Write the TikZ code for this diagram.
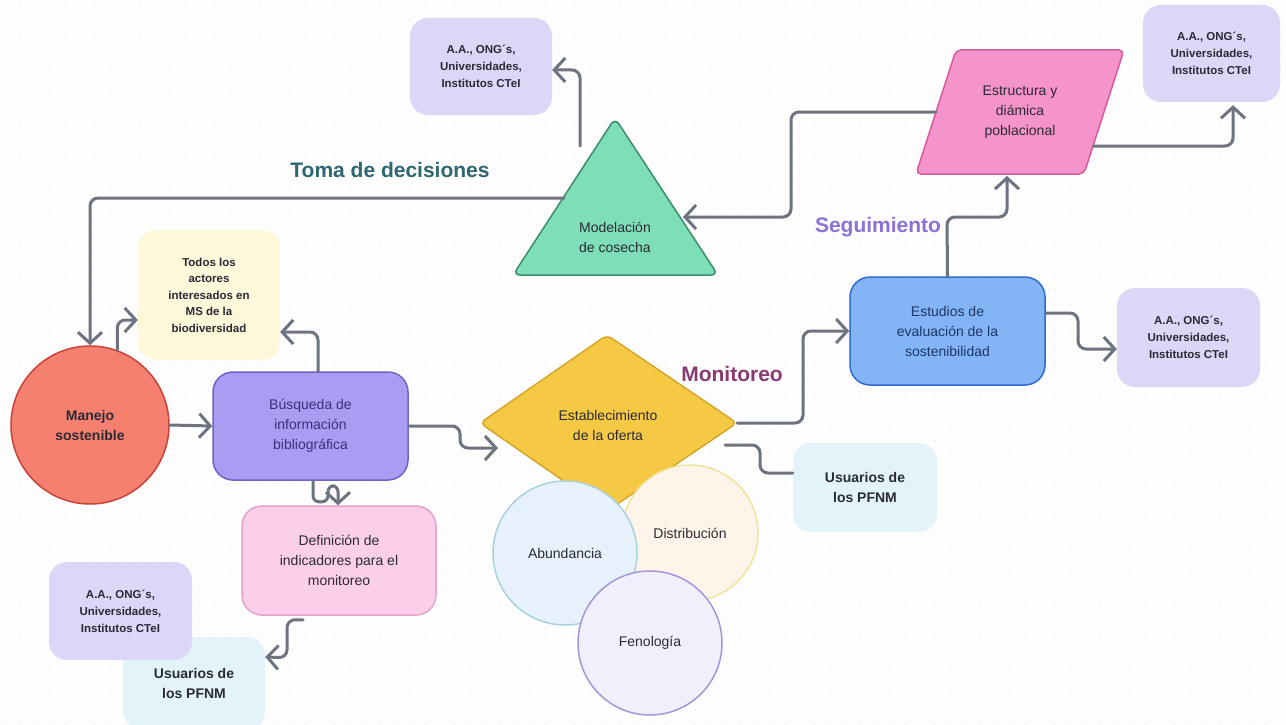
\documentclass[tikz,border=0pt]{standalone}
\usepackage{fontspec}
\setmainfont{Liberation Sans}
\usetikzlibrary{arrows.meta,calc,shapes.geometric}
\definecolor{bgc}{HTML}{FDFDFD}
\definecolor{dotc}{HTML}{DADCE0}
\definecolor{linec}{HTML}{6E7380}
\definecolor{txt}{HTML}{2A2A35}
\definecolor{redfill}{HTML}{F6806F}
\definecolor{redline}{HTML}{C8433A}
\definecolor{purfill}{HTML}{A99CF2}
\definecolor{purline}{HTML}{7062C9}
\definecolor{purtxt}{HTML}{3A2F7A}
\definecolor{yelbox}{HTML}{FDF8DA}
\definecolor{pinkfill}{HTML}{FBCFEA}
\definecolor{pinkline}{HTML}{E5A3CB}
\definecolor{lav}{HTML}{DCD6F7}
\definecolor{cyanbox}{HTML}{E2F4FA}
\definecolor{grnfill}{HTML}{7EDEB7}
\definecolor{grnline}{HTML}{3D8C6B}
\definecolor{parfill}{HTML}{F593CB}
\definecolor{parline}{HTML}{D65B9C}
\definecolor{bluefill}{HTML}{82B4F6}
\definecolor{blueline}{HTML}{2F6BD0}
\definecolor{bluetxt}{HTML}{1D3767}
\definecolor{diafill}{HTML}{F6C945}
\definecolor{dialine}{HTML}{D4A72C}
\definecolor{abfill}{HTML}{E6F1FB}
\definecolor{abline}{HTML}{A8D2DC}
\definecolor{disfill}{HTML}{FEF4EA}
\definecolor{disline}{HTML}{F1E39A}
\definecolor{fenfill}{HTML}{F2EFFC}
\definecolor{fenline}{HTML}{A496DA}
\definecolor{tomac}{HTML}{2E6672}
\definecolor{monc}{HTML}{8A3A72}
\definecolor{segc}{HTML}{8C72D4}
\begin{document}
\begin{tikzpicture}[x=1pt,y=-1pt,
  box/.style={rectangle, rounded corners=18pt, align=center, inner sep=2pt, text=txt},
  tfourteen/.style={font=\fontsize{14}{20}\selectfont},
  bfourteen/.style={font=\bfseries\fontsize{14}{20}\selectfont},
  bsmall/.style={font=\bfseries\fontsize{11.5}{17}\selectfont},
  title/.style={font=\bfseries\fontsize{21}{24}\selectfont},
  conn/.style={draw=linec, line width=3pt, rounded corners=8pt, line cap=round,
    -{Straight Barb[length=11pt,width=24pt]}},
  plain/.style={draw=linec, line width=3pt, rounded corners=8pt, line cap=round},
  bubble/.style={circle, minimum size=144pt, line width=1.5pt, text=txt, tfourteen}
]
\clip (0,0) rectangle (1286,725);
\fill[bgc] (0,0) rectangle (1286,725);
\foreach \x in {5,20,...,1285} {\foreach \y in {5,20,...,725} {\fill[dotc] (\x,\y) circle (0.7pt);}}

% ---------- shapes ----------
% triangle
\draw[fill=grnfill, draw=grnline, line width=1.5pt, rounded corners=7pt]
  (615,118) -- (718,275) -- (513,275) -- cycle;
\node[tfourteen, align=center, text=txt] (mod) at (615,237) {Modelación\\de cosecha};
% parallelogram
\draw[fill=parfill, draw=parline, line width=1.5pt, rounded corners=5pt]
  (956,50) -- (1124,50) -- (1084,174) -- (916,174) -- cycle;
\node[tfourteen, align=center, text=txt] (par) at (1020,112) {Estructura y\\diámica\\poblacional};
% diamond
\draw[fill=diafill, draw=dialine, line width=1.5pt, rounded corners=6pt]
  (480,423) -- (607,335) -- (737,423) -- (607,511) -- cycle;
\node[tfourteen, align=center, text=txt] (dia) at (608,425) {Establecimiento\\de la oferta};

% circles
\node[bubble, fill=disfill, draw=disline, minimum size=136pt] (dis) at (690,533) {Distribución};
\node[bubble, fill=abfill, draw=abline] (abu) at (565,553) {Abundancia};
\node[bubble, fill=fenfill, draw=fenline] (fen) at (650,643) {Fenología};

% boxes
\node[box, fill=lav, minimum width=142pt, minimum height=97pt, bsmall] (aatl) at (481,66.5) {A.A., ONG´s,\\Universidades,\\Institutos CTeI};
\node[box, fill=lav, minimum width=137pt, minimum height=97pt, bsmall] (aatr) at (1211.5,53.5) {A.A., ONG´s,\\Universidades,\\Institutos CTeI};
\node[box, fill=lav, minimum width=143pt, minimum height=99pt, bsmall] (aar) at (1188.5,337.5) {A.A., ONG´s,\\Universidades,\\Institutos CTeI};
\node[box, fill=cyanbox, minimum width=144pt, minimum height=89pt, bfourteen] (usu1) at (865,487.5) {Usuarios de\\los PFNM};
\node[box, fill=cyanbox, minimum width=142pt, minimum height=92pt, bfourteen] (usu2) at (194,683) {Usuarios de\\los PFNM};
\node[box, fill=lav, minimum width=143pt, minimum height=98pt, bsmall] (aabl) at (120.5,611) {A.A., ONG´s,\\Universidades,\\Institutos CTeI};
\node[box, fill=yelbox, minimum width=142pt, minimum height=130pt, font=\bfseries\fontsize{11.5}{16.5}\selectfont] (todo) at (209,295) {Todos los\\actores\\interesados en\\MS de la\\biodiversidad};
\node[box, fill=purfill, draw=purline, line width=1.5pt, rounded corners=20pt, minimum width=195pt, minimum height=108pt, tfourteen, text=purtxt] (bus) at (310.5,426) {Búsqueda de\\información\\bibliográfica};
\node[box, fill=pinkfill, draw=pinkline, line width=1.5pt, rounded corners=20pt, minimum width=194pt, minimum height=109pt, tfourteen] (def) at (339,560.5) {Definición de\\indicadores para el\\monitoreo};
\node[box, fill=bluefill, draw=blueline, line width=1.5pt, rounded corners=20pt, minimum width=195pt, minimum height=108pt, tfourteen, text=bluetxt] (est) at (947.5,331) {Estudios de\\evaluación de la\\sostenibilidad};
\node[circle, fill=redfill, draw=redline, line width=1.5pt, minimum size=158pt, align=center, bfourteen, text=txt] (man) at (90,425) {Manejo\\sostenible};

% titles
\node[title, text=tomac] (toma) at (390,170) {Toma de decisiones};
\node[title, text=monc] (moni) at (732,374) {Monitoreo};
\node[title, text=segc] (segu) at (878,227) {Seguimiento};

% ---------- anchor coordinates on drawn shapes ----------
\coordinate (tri-l) at (564,198);
\coordinate (tri-r) at (683,217);
\coordinate (tri-t) at (580,146);
\coordinate (par-l) at (936,112);
\coordinate (par-r) at (1093,146);
\coordinate (par-b) at (1007,176);
\coordinate (dia-l) at (498,448);
\coordinate (dia-r) at (737,423);
\coordinate (dia-br) at (725,445);

% ---------- connectors ----------
\draw[conn] (man.east) -- (bus.west);
\draw[conn] (man.70) |- (todo.west |- 0,320);
\draw[conn] ([xshift=7.5pt]bus.north) |- (todo.east |- 0,332);
\draw[conn, rounded corners=6pt] ([xshift=2.5pt]bus.south) -- ++(0,21) -- ++(15,0) -- ++(0,-16) -- ++(10,0) -- ([xshift=-1pt]def.north);
\draw[conn] ([xshift=-36pt,yshift=-4pt]def.south) -- ++(-16,0) -- ++(0,38) -- (usu2.east |- 0,657);
\draw[conn] (bus.east) -- (460,426) -- (460,448) -- (dia-l);
\draw[conn] (dia-r) -- (803,423) |- (est.west);
\draw[plain] (dia-br) -- (760,445) -- (760,473) -- (usu1.west |- 0,473);
\draw[conn] (est.east |- 0,313) -- (1078,313) -- (1078,349) -- (aar.west |- 0,349);
\draw[conn] (est.north) -- (947,217) -- (1007,217) -- (par-b);
\draw[conn] (par-l) -- (791,112) -- (791,217) -- (tri-r);
\draw[conn] (par-r) -- (1233,146) -- ([xshift=21.5pt,yshift=-3pt]aatr.south);
\draw[conn] (tri-t) -- (580,70) -- (aatl.east |- 0,70);
\draw[conn] (tri-l) -| (man.north);
\end{tikzpicture}
\end{document}
